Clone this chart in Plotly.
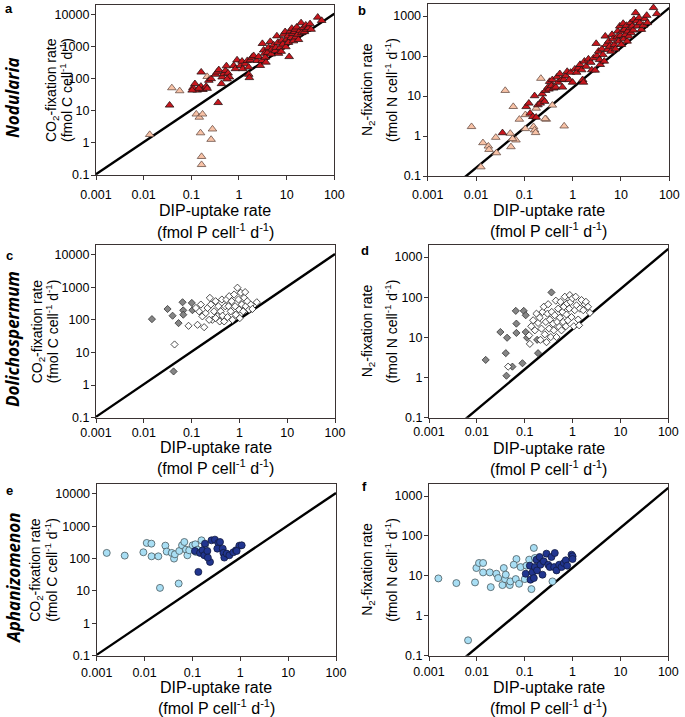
import plotly.graph_objects as go

W, H = 685, 717

# ---------------- data ----------------
# Panel a: Nodularia, DIP uptake (x) vs CO2 fixation (y)
a_light_x = [0.0134, 0.039, 0.057, 0.127, 0.147, 0.172, 0.156, 0.278, 0.26, 0.164, 0.164, 0.215]
a_light_y = [1.82, 52, 42, 7.9, 6.3, 7.9, 2.05, 2.7, 1.28, 0.375, 0.21, 117]
a_dark_x = [0.035, 0.365, 0.161, 0.108, 0.119, 0.133, 0.159, 0.175, 0.205, 0.215, 0.144, 0.104,
            0.233, 0.261, 0.321, 0.348, 0.377, 0.429, 0.443, 0.48, 0.52, 0.545, 0.591, 0.63, 0.563,
            0.776, 0.841, 0.911, 1.07, 1.16, 1.2, 1.36, 1.5, 1.6, 1.73, 1.87, 2.03, 1.6, 1.65,
            2.38, 2.58, 2.8, 3.03, 3.1, 3.29, 3.45, 3.56, 3.68, 3.98, 4.18, 4.53, 4.75, 4.91, 5.32,
            5.76, 5.95, 6.24, 6.55, 6.76, 7.33, 7.69, 7.94, 8.33, 8.6, 9.31, 9.62, 10.1, 10.6, 10.9,
            11.3, 11.9, 12.4, 12.8, 13.3, 13.9, 14.6, 15.1, 15.6, 16.3, 17.1, 17.7, 19.2, 20.1, 20.8,
            22.5, 23.6, 25.2, 26.4, 28.6, 31.0, 32.6, 44.9, 54.3]
a_dark_y = [15, 18, 161, 53, 70, 44, 58, 46, 58, 50, 50, 44,
            89, 100, 137, 161, 190, 70, 113, 143, 181, 252, 150, 113, 98,
            258, 205, 385, 258, 351, 205, 291, 368, 230, 385, 466, 524, 137, 108,
            368, 488, 258, 368, 1250, 780, 618, 466, 327, 663, 945, 1440, 589, 840, 1140,
            746, 945, 2160, 1350, 618, 945, 711, 1590, 1200, 2430, 2930, 990, 1710, 2160, 1350,
            488, 3070, 1920, 3710, 2550, 1510, 2930, 3460, 2010, 4080, 2430, 1660, 3220, 5540, 2730,
            3890, 2930, 4700, 3460, 3890, 5160, 3460, 8280, 6540]

# Panel b: Nodularia, DIP uptake (x) vs N2 fixation (y)
b_light_x = [0.00807, 0.0139, 0.018, 0.0186, 0.0126, 0.0256, 0.0265, 0.0402, 0.0512, 0.0528,
             0.059, 0.0671, 0.0789, 0.0571, 0.105, 0.155, 0.163, 0.171, 0.176, 0.285, 0.27,
             0.22, 0.38, 0.667, 0.105]
b_light_y = [1.71, 0.676, 0.557, 0.459, 0.168, 0.92, 0.378, 13.7, 1.16, 0.536,
             5.43, 0.79, 2.61, 0.854, 1.52, 1.71, 1.41, 1.21, 4.93, 2.61, 2.7,
             27.5, 5.88, 1.77, 3.4]
b_dark_x = [0.0353, 0.109, 0.124, 0.132, 0.15, 0.163, 0.176, 0.191, 0.213, 0.235, 0.243, 0.263,
            0.276, 0.309, 0.324, 0.334, 0.362, 0.38, 0.405, 0.447, 0.476, 0.5, 0.542, 0.587, 0.615,
            0.656, 0.723, 0.771, 0.849, 0.906, 0.997, 1.11, 1.21, 1.31, 1.42, 1.54, 1.61, 1.67, 1.75,
            1.9, 2.12, 2.37, 2.49, 2.7, 2.92, 3.07, 3.17, 3.43, 3.6, 3.72, 4.03, 4.23, 4.51, 4.73,
            4.97, 5.3, 5.56, 5.83, 6.22, 6.53, 6.84, 7.3, 7.66, 8.3, 8.57, 8.99, 9.44, 9.75, 10.2,
            10.6, 11.1, 11.5, 11.8, 12.4, 13.0, 13.4, 13.9, 14.6, 15.3, 15.8, 16.3, 17.1, 18.0, 18.5,
            20.1, 21.1, 21.8, 23.6, 24.7, 26.4, 29.0, 31.0, 34.1, 35.2, 47.0, 55.2]
b_dark_y = [1.2, 5.4, 6.6, 3.7, 3.05, 10.1, 2.93, 6.0, 6.6, 11.3, 8.3, 7.3,
            13.7, 16.6, 14.8, 23, 18, 25.5, 15.7, 16.6, 30, 22, 36, 25.5, 16.6,
            26, 32, 41, 25.5, 39, 22, 47, 39, 50, 61, 45, 25.5, 22, 74,
            55, 84, 69, 45, 89, 44, 205, 102, 131, 81, 61, 150, 108, 74, 313,
            193, 145, 234, 175, 131, 344, 268, 193, 150, 301, 418, 234, 559, 325, 193,
            418, 652, 268, 460, 344, 581, 234, 418, 313, 507, 678, 379, 559, 443, 822,
            1208, 746, 559, 904, 678, 460, 581, 853, 1035, 678, 1614, 1140]

# Panel c: Dolichospermum, DIP uptake vs CO2 fixation
c_grey_x = [0.0148, 0.0314, 0.040, 0.0533, 0.0647, 0.0668, 0.067, 0.101, 0.104, 0.042]
c_grey_y = [106, 217, 135, 80, 350, 197, 145, 333, 200, 2.63]
c_white_x = [0.044, 0.0863, 0.133, 0.183, 0.143, 0.168, 0.198, 0.215, 0.241, 0.253, 0.272, 0.295,
             0.318, 0.346, 0.364, 0.387, 0.406, 0.43, 0.443, 0.48, 0.505, 0.537, 0.563, 0.591,
             0.612, 0.658, 0.689, 0.715, 0.776, 0.814, 0.841, 0.911, 0.956, 0.99, 1.02, 1.07,
             1.12, 1.2, 1.26, 1.32, 1.36, 1.46, 1.6, 1.73, 1.87, 2.31, 0.123, 0.156, 0.233, 0.318]
c_white_y = [17.7, 66, 71, 60, 184, 129, 163, 233, 477, 297, 101, 184,
             376, 129, 263, 90, 184, 424, 135, 90, 263, 424, 122, 263,
             538, 184, 376, 101, 605, 263, 145, 977, 424, 207, 114, 682,
             297, 184, 477, 716, 263, 376, 207, 297, 217, 350, 233, 297, 101, 114]

# Panel d: Dolichospermum, DIP uptake vs N2 fixation
d_grey_x = [0.0153, 0.031, 0.0428, 0.0402, 0.0415, 0.0553, 0.065, 0.067, 0.067, 0.0897, 0.0955,
            0.105, 0.112, 0.182, 0.19, 0.362, 0.105]
d_grey_y = [2.75, 13.6, 9.8, 4.05, 1.11, 1.87, 45.8, 22, 12.9, 2.27, 45.8,
            35.6, 9.8, 8.7, 4.05, 132, 13.6]
d_white_x = [0.045, 0.128, 0.124, 0.137, 0.15, 0.163, 0.176, 0.19, 0.205, 0.213, 0.224, 0.235,
             0.25, 0.263, 0.276, 0.285, 0.299, 0.309, 0.324, 0.334, 0.35, 0.367, 0.393, 0.405,
             0.425, 0.447, 0.462, 0.476, 0.5, 0.524, 0.542, 0.56, 0.587, 0.615, 0.634, 0.656,
             0.69, 0.723, 0.746, 0.771, 0.8, 0.849, 0.875, 0.906, 0.95, 0.997, 1.06, 1.11, 1.16,
             1.21, 1.31, 1.37, 1.42, 1.54, 1.67, 1.8, 1.9, 2.3, 2.1]
d_white_y = [1.87, 6.9, 11.2, 18.9, 26.7, 15, 39, 22.9, 31, 8.7, 16.5, 43,
             58, 11.9, 24.3, 7.6, 39, 67, 16.5, 27.8, 10.2, 43, 22, 15,
             35.6, 82, 10.2, 24.3, 52, 18.2, 31, 77, 15, 43, 24.3, 58,
             103, 18.9, 37, 70, 26.7, 52, 113, 77, 32, 94, 18.9, 47.6, 103,
             63, 27.8, 20, 52, 85, 47.6, 67, 77, 40.8, 58]

# Panel e: Aphanizomenon, DIP uptake vs CO2 fixation
e_light_x = [0.00162, 0.00385, 0.00944, 0.0111, 0.0139, 0.014, 0.0194, 0.021, 0.0272, 0.029,
             0.0369, 0.0413, 0.043, 0.0516, 0.0531, 0.0607, 0.0678, 0.0735, 0.0784, 0.0858,
             0.101, 0.115, 0.127, 0.155, 0.183, 0.118]
e_light_y = [149, 123, 156, 303, 288, 117, 117, 12.4, 250, 164,
             149, 99.5, 135, 16.9, 171, 256, 324, 188, 126, 180,
             256, 275, 188, 365, 256, 160]
e_dark_x = [0.113, 0.133, 0.144, 0.163, 0.177, 0.183, 0.205, 0.233, 0.25, 0.295, 0.348, 0.331,
            0.377, 0.43, 0.443, 0.464, 0.52, 0.591, 0.715, 0.814, 0.956, 1.07, 0.84, 0.21]
e_dark_y = [171, 38.6, 149, 180, 126, 288, 171, 78.5, 365, 383, 303, 202,
            324, 202, 149, 107, 142, 126, 156, 180, 250, 256, 171, 107]

# Panel f: Aphanizomenon, DIP uptake vs N2 fixation
f_light_x = [0.00157, 0.00373, 0.00655, 0.00916, 0.00977, 0.0111, 0.0135, 0.0135, 0.0186, 0.0195,
             0.0256, 0.0278, 0.0342, 0.0365, 0.0387, 0.0402, 0.0487, 0.05, 0.065, 0.0671, 0.0763,
             0.082, 0.1, 0.109, 0.124, 0.138, 0.155, 0.163, 0.176, 0.38, 0.059]
f_light_y = [8.63, 6.59, 0.243, 6.85, 15.7, 21, 21, 12.2, 12.2, 5.22,
             11.3, 8.8, 5.87, 15.7, 8.3, 10.7, 5.87, 7.26, 8.3, 26.4, 6.34,
             16.6, 8.3, 18, 25.5, 4.66, 50, 28, 16.6, 7.26, 19]
f_dark_x = [0.105, 0.128, 0.132, 0.145, 0.155, 0.163, 0.176, 0.181, 0.205, 0.213, 0.235, 0.25,
            0.285, 0.309, 0.334, 0.362, 0.412, 0.425, 0.462, 0.524, 0.587, 0.656, 0.723, 0.771,
            0.95, 1.0, 0.997]
f_dark_y = [11.3, 18, 8.0, 12.2, 8.8, 16.6, 25.5, 13.7, 29.7, 19, 10.7, 23.1,
            36, 19, 16.6, 29.7, 16.6, 37.4, 13.7, 19, 16.6, 21, 24.5, 18,
            34, 30.9, 26.4]

# Redfield ratios for the reference lines
RATIO_CP = 106
RATIO_NP = 16
line_x = [0.001, 100]

x_tickvals = [0.001, 0.01, 0.1, 1, 10, 100]
x_ticktext = ["0.001", "0.01", "0.1", "1", "10", "100"]
yc_tickvals = [0.1, 1, 10, 100, 1000, 10000]
yc_ticktext = ["0.1", "1", "10", "100", "1000", "10000"]
yn_tickvals = [0.1, 1, 10, 100, 1000]
yn_ticktext = ["0.1", "1", "10", "100", "1000"]

genus_names = ["Nodularia", "Dolichospermum", "Aphanizomenon"]
panel_letters = ["a", "b", "c", "d", "e", "f"]

# ---------------- styling ----------------
FONT = "Liberation Sans, Arial, sans-serif"
FRAME = "#3a3333"
RED = "#c8161d"
PEACH = "#f8c2a6"
GREY = "#858585"
LBLUE = "#a8def4"
DBLUE = "#21358f"

# plot frames in pixels: (left, right, top, bottom)
frames = [
    (96, 334.3, 5, 175),
    (427.7, 669.3, 4, 176),
    (96, 335, 245, 417.7),
    (429, 668.3, 245, 417.7),
    (96.7, 336, 484, 655.7),
    (429, 668.3, 484, 655.7),
]
# tick-label standoff tweaks per panel (x, y)
standoffs = [(4, -1), (3, -1), (-1, -1), (-2, -1), (1, -1), (0, -1)]

def px(x):
    return x / W

def py(y):
    return 1 - y / H

fig = go.Figure()

panel_series = [
    [(a_light_x, a_light_y, "triangle-up", PEACH, "#6b5048", 7.5),
     (a_dark_x, a_dark_y, "triangle-up", RED, "#2a1414", 7.5)],
    [(b_light_x, b_light_y, "triangle-up", PEACH, "#6b5048", 7.5),
     (b_dark_x, b_dark_y, "triangle-up", RED, "#2a1414", 7.5)],
    [(c_grey_x, c_grey_y, "diamond", GREY, "#333333", 5.5),
     (c_white_x, c_white_y, "diamond", "white", "#222222", 5.5)],
    [(d_grey_x, d_grey_y, "diamond", GREY, "#333333", 5.5),
     (d_white_x, d_white_y, "diamond", "white", "#222222", 5.5)],
    [(e_light_x, e_light_y, "circle", LBLUE, "#4a5a60", 7),
     (e_dark_x, e_dark_y, "circle", DBLUE, "#111a40", 7)],
    [(f_light_x, f_light_y, "circle", LBLUE, "#4a5a60", 7),
     (f_dark_x, f_dark_y, "circle", DBLUE, "#111a40", 7)],
]

for i in range(6):
    n = i + 1
    xa = "x" if n == 1 else f"x{n}"
    ya = "y" if n == 1 else f"y{n}"
    is_c = (i % 2 == 0)
    ratio = RATIO_CP if is_c else RATIO_NP
    fig.add_trace(go.Scatter(x=line_x, y=[v * ratio for v in line_x], mode="lines",
                             line=dict(color="black", width=2.4), xaxis=xa, yaxis=ya,
                             showlegend=False, hoverinfo="skip"))
    for (sx, sy, sym, fill, edge, size) in panel_series[i]:
        fig.add_trace(go.Scatter(x=sx, y=sy, mode="markers", xaxis=xa, yaxis=ya,
                                 marker=dict(symbol=sym, size=size, color=fill,
                                             line=dict(color=edge, width=0.8)),
                                 showlegend=False, cliponaxis=False))
    l, r, t, b = frames[i]
    axis_common = dict(type="log", showline=True, mirror=True, linecolor=FRAME, linewidth=1.3,
                       showgrid=False, zeroline=False, ticks="outside", ticklen=4, tickwidth=1,
                       tickcolor=FRAME, automargin=False,
                       tickfont=dict(family=FONT, size=12.5, color="black"))
    fig.layout[("xaxis" if n == 1 else f"xaxis{n}")] = dict(
        axis_common, domain=[px(l), px(r)], range=[-3, 2], anchor=ya,
        tickvals=x_tickvals, ticktext=x_ticktext, ticklabelstandoff=standoffs[i][0])
    yr = [-1, 4.301] if is_c else [-1, 3.301]
    fig.layout[("yaxis" if n == 1 else f"yaxis{n}")] = dict(
        axis_common, domain=[py(b), py(t)], range=yr, anchor=xa,
        tickvals=yc_tickvals if is_c else yn_tickvals,
        ticktext=yc_ticktext if is_c else yn_ticktext, ticklabelstandoff=standoffs[i][1])

annotations = []

def ann(text, x, y, size, angle=0, bold=False, italic=False):
    if bold:
        text = f"<b>{text}</b>"
    if italic:
        text = f"<i>{text}</i>"
    annotations.append(dict(text=text, x=px(x), y=py(y), xref="paper", yref="paper",
                            showarrow=False, textangle=angle, xanchor="center", yanchor="middle",
                            font=dict(family=FONT, size=size, color="black")))

# panel letters
letter_pos = [(9, 9), (362, 11), (9, 255), (365, 251), (9, 490), (364, 486)]
for k, (lx, lyy) in enumerate(letter_pos):
    ann(panel_letters[k], lx, lyy, 13, bold=True)

# x-axis titles
xt_pos = [(210, 231), (210, 230), (447, 467), (448, 468), (687, 707), (687, 707)]
for k in range(6):
    l, r, t, b = frames[k]
    cx = (l + r) / 2
    ann("DIP-uptake rate", cx, xt_pos[k][0], 16)
    ann("(fmol P cell<sup>-1</sup> d<sup>-1</sup>)", cx, xt_pos[k][1], 16)

# y-axis titles
yt_x = [(52, 66), (368, 391), (38, 52), (368, 391), (36, 51), (368, 391)]
for k in range(6):
    l, r, t, b = frames[k]
    cy = (t + b) / 2
    if k % 2 == 0:
        l1 = "CO<sub>2</sub>-fixation rate"
        l2 = "(fmol C cell<sup>-1</sup> d<sup>-1</sup>)"
    else:
        l1 = "N<sub>2</sub>-fixation rate"
        l2 = "(fmol N cell<sup>-1</sup> d<sup>-1</sup>)"
    ann(l1, yt_x[k][0], cy, 14, angle=-90)
    ann(l2, yt_x[k][1], cy, 14, angle=-90)

# genus labels
genus_pos = [(12, 98), (12, 339), (13, 578)]
for k, (gx, gy) in enumerate(genus_pos):
    annotations.append(dict(text=f"<b><i>{genus_names[k]}</i></b>", x=px(gx), y=py(gy),
                            xref="paper", yref="paper", showarrow=False, textangle=-90,
                            xanchor="center", yanchor="middle",
                            font=dict(family="Open Sans, Liberation Sans, sans-serif", size=17,
                                      color="black")))

fig.update_layout(width=W, height=H, margin=dict(l=0, r=0, t=0, b=0, autoexpand=False),
                  paper_bgcolor="white", plot_bgcolor="white", annotations=annotations,
                  font=dict(family=FONT), template="none")

fig.write_html("out.html", config={"displayModeBar": False},
               post_script="document.body.style.margin='0';document.body.style.padding='0';")
